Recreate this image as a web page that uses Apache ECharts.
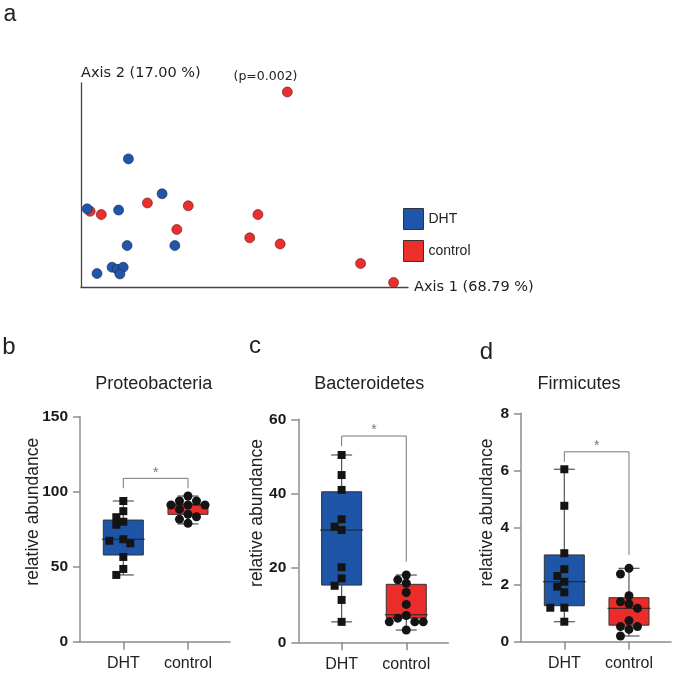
<!DOCTYPE html>
<html><head><meta charset="utf-8">
<script src="https://cdn.jsdelivr.net/npm/echarts@6/dist/echarts.min.js"></script>
<style>html,body{margin:0;padding:0;background:#fff}#c{width:675px;height:684px}</style>
</head><body><div id="c"></div>
<script>
// ---------- Panel a: PCoA ----------
const pcoaAxis1Label = 'Axis 1 (68.79 %)';
const pcoaAxis2Label = 'Axis 2 (17.00 %)';
const pcoaPValue = '(p=0.002)';
const groups = ['DHT', 'control'];
const dhtPcoaX  = [14.5, 24.8, 1.9, 11.5, 14.1, 28.7, 9.5, 11.1, 12.9, 11.9, 4.9];
const dhtPcoaY  = [62.8, 45.7, 38.3, 37.7, 20.3, 20.3, 9.7, 8.7, 9.7, 6.4, 6.6];
const ctrlPcoaX = [63.1, 2.8, 6.2, 20.3, 32.8, 29.3, 54.1, 51.6, 60.9, 85.5, 95.6];
const ctrlPcoaY = [95.6, 37.1, 35.5, 41.2, 39.8, 28.2, 35.5, 24.1, 21.1, 11.5, 2.2];

// ---------- Panels b-d ----------
const panelTitles = ['Proteobacteria', 'Bacteroidetes', 'Firmicutes'];
const panelLetters = ['a', 'b', 'c', 'd'];
const yAxisName = 'relative abundance';
const yMax = [150, 60, 8];
const yInterval = [50, 20, 2];
const sigLabel = '*';

const proteoDHT  = [93.8, 87, 83, 80, 78, 68.3, 67.3, 65.6, 56.5, 48.5, 44.5];
const proteoCtrl = [97.1, 93.8, 93.8, 91.1, 91.1, 91.1, 88.2, 84.9, 83.3, 81.6, 78.9];
const bacterDHT  = [50.4, 45.0, 41.0, 33.1, 31.1, 30.2, 20.2, 17.2, 15.2, 11.4, 5.5];
const bacterCtrl = [18.1, 16.8, 15.9, 13.4, 10.2, 7.2, 6.5, 5.5, 5.5, 5.5, 3.3];
const firmiDHT   = [6.04, 4.76, 3.10, 2.54, 2.30, 2.10, 1.93, 1.73, 1.19, 1.19, 0.70];
const firmiCtrl  = [2.57, 2.37, 1.61, 1.40, 1.32, 1.17, 0.74, 0.53, 0.53, 0.43, 0.20];

// box stats: [min, q1, median, q3, max]
const proteoBoxDHT  = [44.5, 57.8, 68.3, 81.1, 93.8];
const proteoBoxCtrl = [78.5, 84.9, 91.1, 91.8, 97.1];
const bacterBoxDHT  = [5.5, 15.4, 30.2, 40.5, 50.4];
const bacterBoxCtrl = [3.3, 6.5, 7.4, 15.6, 18.1];
const firmiBoxDHT   = [0.70, 1.26, 2.10, 3.04, 6.04];
const firmiBoxCtrl  = [0.20, 0.58, 1.17, 1.54, 2.57];

// significance brackets: [left leg bottom, bar height, right leg bottom]
const proteoBracket = [102.3, 108.9, 102.3];
const bacterBracket = [52.7, 55.5, 21.7];
const firmiBracket  = [6.3, 6.65, 3.04];

// ---------- styling / layout ----------
const BLUE = '#1f55ab', RED = '#ea2f2c';
const BOX_BLUE = '#1e55a7', BOX_RED = '#ec2c2b';
const AXIS_GRAY = '#8c8c8c';
const XMIN = 0.33, XMAX = 2.65;
const panelGrids = [
  {left: 80, top: 416.7, width: 150, height: 225},
  {left: 298.3, top: 419.3, width: 150, height: 223},
  {left: 521, top: 413.3, width: 150, height: 228.4}
];
const panelPoints = [[proteoDHT, proteoCtrl], [bacterDHT, bacterCtrl], [firmiDHT, firmiCtrl]];
const panelBoxes = [[proteoBoxDHT, proteoBoxCtrl], [bacterBoxDHT, bacterBoxCtrl], [firmiBoxDHT, firmiBoxCtrl]];
const panelBrackets = [proteoBracket, bacterBracket, firmiBracket];

function swarm(values, pxPerUnit, step, minDist) {
  const placed = [];
  const offs = new Array(values.length).fill(0);
  const order = values.map((v, i) => i).sort((a, b) => values[b] - values[a]);
  for (const i of order) {
    const y = values[i] * pxPerUnit;
    for (let k = 0; k < 30; k++) {
      const dx = k === 0 ? 0 : (k % 2 ? -1 : 1) * Math.ceil(k / 2) * step;
      if (placed.every(p => Math.hypot(p[0] - dx, p[1] - y) >= minDist)) {
        offs[i] = dx; placed.push([dx, y]); break;
      }
    }
  }
  return offs;
}

function boxRender(fills) {
  return function (params, api) {
    const x = api.value(0);
    const v = [1, 2, 3, 4, 5].map(i => api.value(i));
    const p = v.map(val => api.coord([x, val]));
    const cx = p[0][0], hw = 20, cw = 10.5;
    const ws = {stroke: '#555', lineWidth: 1.2};
    return {type: 'group', children: [
      {type: 'line', shape: {x1: cx, y1: p[4][1], x2: cx, y2: p[3][1]}, style: ws},
      {type: 'line', shape: {x1: cx, y1: p[1][1], x2: cx, y2: p[0][1]}, style: ws},
      {type: 'line', shape: {x1: cx - cw, y1: p[4][1], x2: cx + cw, y2: p[4][1]}, style: ws},
      {type: 'line', shape: {x1: cx - cw, y1: p[0][1], x2: cx + cw, y2: p[0][1]}, style: ws},
      {type: 'rect', shape: {x: cx - hw, y: p[3][1], width: 2 * hw, height: p[1][1] - p[3][1]},
        style: {fill: fills[params.dataIndex], stroke: '#333', lineWidth: 1}},
      {type: 'line', shape: {x1: cx - hw - 1.5, y1: p[2][1], x2: cx + hw + 1.5, y2: p[2][1]},
        style: {stroke: '#222', lineWidth: 1}}
    ]};
  };
}

const grid = [{left: 81, top: 83, width: 327, height: 204}].concat(panelGrids);
const xAxis = [{
  gridIndex: 0, type: 'value', min: 0, max: 100,
  axisLine: {show: true, lineStyle: {color: '#444', width: 1.3}},
  axisTick: {show: false}, axisLabel: {show: false}, splitLine: {show: false},
  name: pcoaAxis1Label, nameLocation: 'end', nameGap: 6,
  nameTextStyle: {fontFamily: 'DejaVu Sans', fontSize: 14.5, color: '#222'}
}];
const yAxis = [{
  gridIndex: 0, type: 'value', min: 0, max: 100,
  axisLine: {show: true, lineStyle: {color: '#444', width: 1.3}},
  axisTick: {show: false}, axisLabel: {show: false}, splitLine: {show: false},
  name: pcoaAxis2Label, nameLocation: 'end', nameGap: 2,
  nameTextStyle: {fontFamily: 'DejaVu Sans', fontSize: 14.5, color: '#222', align: 'left', verticalAlign: 'bottom'}
}];
const series = [
  {type: 'scatter', name: 'control', xAxisIndex: 0, yAxisIndex: 0, symbolSize: 10,
   itemStyle: {color: RED, borderColor: '#5a1a1a', borderWidth: 0.6, opacity: 1},
   data: ctrlPcoaX.map((x, i) => [x, ctrlPcoaY[i]])},
  {type: 'scatter', name: 'DHT', xAxisIndex: 0, yAxisIndex: 0, symbolSize: 10,
   itemStyle: {color: BLUE, borderColor: '#1a2a50', borderWidth: 0.6, opacity: 1},
   data: dhtPcoaX.map((x, i) => [x, dhtPcoaY[i]])}
];

panelGrids.forEach((g, k) => {
  const gi = k + 1;
  const pxPerUnitY = g.height / yMax[k];
  const pxPerUnitX = g.width / (XMAX - XMIN);
  xAxis.push({
    gridIndex: gi, type: 'value', min: XMIN, max: XMAX,
    axisLine: {show: true, lineStyle: {color: AXIS_GRAY, width: 1.5}},
    axisTick: {show: true, customValues: [1, 2], length: 8, lineStyle: {color: AXIS_GRAY, width: 1.5}},
    axisLabel: {customValues: [1, 2], formatter: v => groups[Math.round(v) - 1],
      fontFamily: 'Liberation Sans', fontSize: 16, color: '#222', margin: 14},
    splitLine: {show: false}
  });
  yAxis.push({
    gridIndex: gi, type: 'value', min: 0, max: yMax[k], interval: yInterval[k],
    axisLine: {show: true, lineStyle: {color: AXIS_GRAY, width: 1.5}},
    axisTick: {show: true, length: 7, lineStyle: {color: AXIS_GRAY, width: 1.5}},
    axisLabel: {fontFamily: 'Liberation Sans', fontWeight: 'bold', fontSize: 15.5, color: '#1a1a1a', margin: 12},
    splitLine: {show: false}
  });
  const boxes = panelBoxes[k];
  series.push({
    type: 'custom', name: 'box' + k, xAxisIndex: gi, yAxisIndex: gi, silent: true, z: 2,
    renderItem: boxRender([BOX_BLUE, BOX_RED]),
    encode: {x: 0, y: [1, 2, 3, 4, 5]},
    data: boxes.map((b, i) => [i + 1].concat(b))
  });
  panelPoints[k].forEach((vals, gidx) => {
    const isSq = gidx === 0;
    const offs = swarm(vals, pxPerUnitY, isSq ? 7 : 8.5, isSq ? 7.5 : 7.8);
    series.push({
      type: 'scatter', name: 'pts' + k + '_' + gidx, xAxisIndex: gi, yAxisIndex: gi, z: 5, silent: true,
      symbol: isSq ? 'rect' : 'circle', symbolSize: isSq ? 8 : 9,
      itemStyle: {color: '#141414', opacity: 1},
      data: vals.map((v, i) => [gidx + 1 + offs[i] / pxPerUnitX, v])
    });
  });
  const br = panelBrackets[k];
  series.push({
    type: 'line', name: 'br' + k, xAxisIndex: gi, yAxisIndex: gi, silent: true, z: 3,
    showSymbol: false, symbol: 'none', lineStyle: {color: '#777', width: 1},
    data: [[1, br[0]], [1, br[1]], [2, br[1]], [2, br[2]]]
  });
  series.push({
    type: 'scatter', name: 'sig' + k, xAxisIndex: gi, yAxisIndex: gi, silent: true, z: 3,
    symbolSize: 1, itemStyle: {color: 'rgba(0,0,0,0)'},
    label: {show: true, position: 'top', distance: -2, formatter: sigLabel,
      fontFamily: 'Liberation Sans', fontSize: 14, color: '#555'},
    data: [[1.5, br[1]]]
  });
});

const txt = (t, x, y, size, opts) => Object.assign({
  type: 'text', x: x, y: y,
  style: Object.assign({text: t, fontFamily: 'Liberation Sans', fontSize: size, fill: '#222',
    align: 'center', verticalAlign: 'middle'}, (opts && opts.style) || {})
}, opts && opts.rotation !== undefined ? {rotation: opts.rotation} : {});

const graphic = [
  txt(panelLetters[0], 10, 15, 23),
  txt(panelLetters[1], 9, 347.5, 24),
  txt(panelLetters[2], 255, 346, 24),
  txt(panelLetters[3], 486.5, 352.5, 24),
  txt(panelTitles[0], 153.7, 384.5, 18),
  txt(panelTitles[1], 369.3, 384.5, 18),
  txt(panelTitles[2], 579, 383.7, 18),
  txt(yAxisName, 33.2, 511.7, 17.5, {rotation: Math.PI / 2}),
  txt(yAxisName, 257.2, 513, 17.5, {rotation: Math.PI / 2}),
  txt(yAxisName, 487.2, 512.5, 17.5, {rotation: Math.PI / 2}),
  txt(pcoaPValue, 265.5, 76.5, 12.5, {style: {fontFamily: 'DejaVu Sans'}})
];

const chart = echarts.init(document.getElementById('c'), null, {renderer: 'canvas'});
chart.setOption({
  animation: false,
  backgroundColor: '#fff',
  grid: grid, xAxis: xAxis, yAxis: yAxis, series: series, graphic: graphic,
  legend: {
    data: ['DHT', 'control'], orient: 'vertical', left: 403, top: 208, padding: 0,
    itemWidth: 20, itemHeight: 21, itemGap: 10, icon: 'rect',
    itemStyle: {borderColor: '#333', borderWidth: 1, opacity: 1},
    textStyle: {fontFamily: 'Liberation Sans', fontSize: 14, color: '#222'},
    selectedMode: false
  }
});
</script></body></html>
